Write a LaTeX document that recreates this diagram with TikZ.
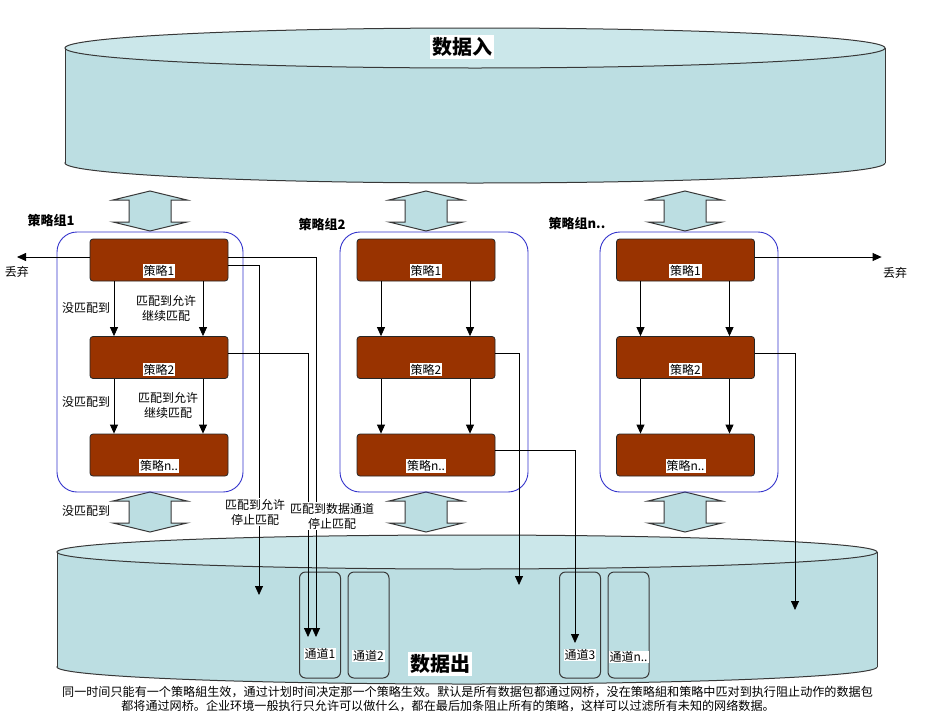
\documentclass[tikz,border=0pt]{standalone}
\usepackage{fontspec}
\setmainfont{Noto Sans CJK SC}
\usetikzlibrary{arrows.meta, positioning}
\usepackage{xcolor}
\definecolor{cylside}{RGB}{188,222,226}
\definecolor{cyltop}{RGB}{203,231,234}
\definecolor{policy}{RGB}{153,51,0}
\definecolor{grpblue}{RGB}{51,51,204}
\definecolor{edgegray}{RGB}{56,56,56}

\tikzset{
  policybox/.style={draw=black!85, fill=policy, rounded corners=3pt,
    minimum width=138pt, minimum height=42pt},
  plabel/.style={fill=white, inner sep=1pt, font=\fontsize{12}{14}\selectfont},
  grpbox/.style={draw=grpblue, line width=0.9pt, rounded corners=20pt,
    minimum width=186pt, minimum height=260pt},
  grptitle/.style={font=\fontsize{13}{15}\selectfont\bfseries},
  note/.style={font=\fontsize{12}{15}\selectfont, align=center, inner sep=1pt},
  bigtitle/.style={fill=white, inner sep=2pt, font=\fontsize{20}{22}\selectfont\bfseries},
  chanbox/.style={draw=edgegray, line width=1pt, rounded corners=6pt,
    minimum width=41pt, minimum height=106pt},
  flow/.style={-{Triangle[length=9pt,width=8pt]}},
  dblarrow/.pic={
    \draw[fill=cylside, draw=edgegray, line width=1pt]
      (0,-20) -- (37,-11) -- (21,-11) -- (21,11) -- (37,11) -- (0,20)
      -- (-37,11) -- (-21,11) -- (-21,-11) -- (-37,-11) -- cycle;
  }
}

\begin{document}
\begin{tikzpicture}[x=1pt, y=-1pt, line width=0.8pt]
  \useasboundingbox[fill=white] (0,0) rectangle (934,726);

  % data in
  \draw[draw=edgegray, line width=1pt, fill=cylside] (475,163) ellipse [x radius=410, y radius=20];
  \fill[cylside] (65,48) rectangle (885,163);
  \draw[edgegray, line width=1pt] (65,48) -- (65,163) (885,48) -- (885,163);
  \draw[draw=edgegray, line width=1pt, fill=cyltop] (475,48) ellipse [x radius=410, y radius=20];
  \node[bigtitle] (din) at (462,47) {数据入};

  % data out
  \draw[draw=edgegray, line width=1pt, fill=cylside] (467,667) ellipse [x radius=410, y radius=17];
  \fill[cylside] (57,552) rectangle (877,667);
  \draw[edgegray, line width=1pt] (57,552) -- (57,667) (877,552) -- (877,667);
  \draw[draw=edgegray, line width=1pt, fill=cyltop] (467,552) ellipse [x radius=410, y radius=17];
  \node[bigtitle] (dout) at (440,664) {数据出};

  \foreach \x in {150,426,685} {
    \pic at (\x,211) {dblarrow};
    \pic at (\x,512) {dblarrow};
  }

  \node[chanbox] (ch1) at (320,625) {};
  \node[chanbox] (ch2) at (368.5,625) {};
  \node[chanbox] (ch3) at (580,625) {};
  \node[chanbox] (chn) at (628.5,625) {};
  \node[plabel] (ch1l) at ([yshift=-29pt]ch1.center) {通道1};
  \node[plabel] (ch2l) at ([yshift=-31pt]ch2.center) {通道2};
  \node[plabel] (ch3l) at ([yshift=-30pt]ch3.center) {通道3};
  \node[plabel] (chnl) at ([yshift=-32pt]chn.center) {通道n..};

  % groups
  \node[grpbox] (grp1) at (150,362) {};
  \node[grpbox, minimum width=188pt] (grp2) at (434,362) {};
  \node[grpbox, minimum width=178pt] (grpn) at (689,362) {};
  \node[grptitle] (t1) at (51,221) {策略组1};
  \node[grptitle] (t2) at (322,225) {策略组2};
  \node[grptitle] (tn) at (577,224) {策略组n..};

  \foreach \g/\x in {1/159,2/426,n/685.5} {
    \node[policybox] (g\g a) at (\x,260) {};
    \node[policybox] (g\g b) at (\x,357.5) {};
    \node[policybox] (g\g c) at (\x,455) {};
    \node[plabel] at ([yshift=-11pt]g\g a.center) {策略1};
    \node[plabel] at ([yshift=-12pt]g\g b.center) {策略2};
    \node[plabel] at ([yshift=-11pt]g\g c.center) {策略n..};
    \foreach \a/\b in {a/b,b/c} {
      \draw[flow] ([xshift=-45pt]g\g\a.south) -- ([xshift=-45pt]g\g\b.north);
      \draw[flow] ([xshift=44pt]g\g\a.south) -- ([xshift=44pt]g\g\b.north);
    }
  }

  \node[note] (nm1) at (86,308) {没匹配到};
  \node[note] (ok1) at (166,308) {匹配到允许\\继续匹配};
  \node[note] (nm2) at (86,402) {没匹配到};
  \node[note] (ok2) at (168,405) {匹配到允许\\继续匹配};
  \node[note] (nm3) at (86,511) {没匹配到};

  % discard
  \node[note] (drop1) at (17,272) {丢弃};
  \node[note] (dropn) at (895,273) {丢弃};
  \draw[flow] ([yshift=3pt]g1a.west) -- ([yshift=3pt]g1a.west -| drop1);
  \draw[flow] ([yshift=3pt]gna.east) -- ([yshift=3pt]gna.east -| dropn.west);

  % to data out
  \coordinate (e1) at (316,637);
  \coordinate (e2) at (259,595);
  \coordinate (e3) at (308,637);
  \coordinate (e4) at (519,585);
  \coordinate (e5) at (575,643);
  \coordinate (e6) at (795,610);
  \draw[flow] ([yshift=3pt]g1a.east) -| (e1);
  \draw[flow] ([yshift=-5pt]g1a.east) -| (e2);
  \draw[flow] ([yshift=4.5pt]g1b.east) -| (e3);
  \draw[flow] ([yshift=4.5pt]g2b.east) -| (e4);
  \draw[flow] ([yshift=5pt]g2c.east) -| (e5);
  \draw[flow] ([yshift=4.5pt]gnb.east) -| (e6);
  \node[note, fill=white] (stop1) at (255,512) {匹配到允许\\停止匹配};
  \node[note, fill=white] (stop2) at (332,516) {匹配到数据通道\\停止匹配};

  \node[font=\fontsize{12.1}{14}\selectfont, inner sep=0pt] (cap1) at (467.5,692)
    {同一时间只能有一个策略組生效，通过计划时间决定那一个策略生效。默认是所有数据包都通过网桥，没在策略組和策略中匹对到执行阻止动作的数据包};
  \node[font=\fontsize{12.1}{14}\selectfont, inner sep=0pt] (cap2) at (448,706)
    {都将通过网桥。企业环境一般执行只允许可以做什么，都在最后加条阻止所有的策略，这样可以过滤所有未知的网络数据。};
\end{tikzpicture}
\end{document}
